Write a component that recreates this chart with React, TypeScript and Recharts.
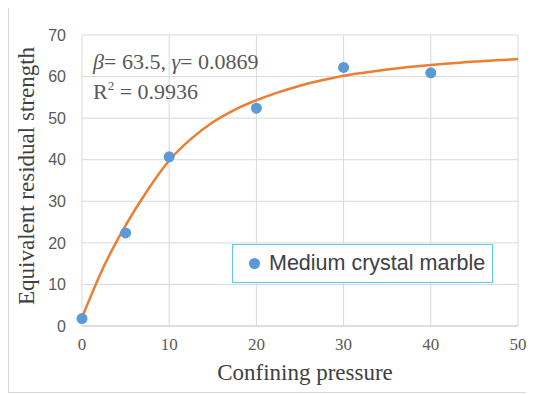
import React from 'react';
import {
  ComposedChart,
  Line,
  Scatter,
  XAxis,
  YAxis,
  CartesianGrid,
  Customized,
} from 'recharts';

// measured points (confining pressure vs equivalent residual strength)
const pressures = [0, 5, 10, 20, 30, 40];
const strengths = [1.8, 22.4, 40.7, 52.4, 62.2, 60.9];

// fitted curve
const curveX = [0, 2.5, 5, 7.5, 10, 12.5, 15, 17.5, 20, 22.5, 25, 27.5, 30, 32.5, 35, 37.5, 40, 42.5, 45, 47.5, 50];
const curveY = [2.0, 14.3, 24.2, 32.6, 39.8, 45.0, 49.0, 52.0, 54.3, 56.2, 57.8, 59.1, 60.2, 61.0, 61.7, 62.3, 62.8, 63.2, 63.6, 63.9, 64.2];

const xTicks = [0, 10, 20, 30, 40, 50];
const yTicks = [0, 10, 20, 30, 40, 50, 60, 70];

const points = pressures.map((x, i) => ({ x, y: strengths[i] }));
const curve = curveX.map((x, i) => ({ x, y: curveY[i] }));

const serif = '"Liberation Serif", "Times New Roman", serif';
const sans = '"Liberation Sans", Arial, sans-serif';

const Dot = (props: any) => (
  <circle cx={props.cx} cy={props.cy} r={5.5} fill="#5b9bd5" />
);

const Titles = () => (
  <g fontFamily={serif} fill="#404040" fontSize={23}>
    <text x={305} y={380} textAnchor="middle">Confining pressure</text>
    <text
      x={0}
      y={0}
      textAnchor="middle"
      transform="translate(34, 176) rotate(-90)"
    >
      Equivalent residual strength
    </text>
  </g>
);

export default function App() {
  return (
    <div style={{ position: 'relative', marginLeft: -8, marginTop: -8, width: 534, height: 394, background: '#fff' }}>
      <div
        style={{
          position: 'absolute',
          left: 8,
          top: 5,
          width: 525,
          height: 388,
          border: '1px solid #d9d9d9',
          boxSizing: 'border-box',
        }}
      />
      <ComposedChart
        width={534}
        height={394}
        margin={{ top: 35, right: 16, left: 22, bottom: 38 }}
        style={{ position: 'absolute', left: 0, top: 0 }}
      >
        <CartesianGrid stroke="#d9d9d9" strokeWidth={1} />
        <XAxis
          dataKey="x"
          type="number"
          domain={[0, 50]}
          ticks={xTicks}
          height={30}
          tickLine={false}
          tickSize={0}
          tickMargin={12}
          axisLine={{ stroke: '#cfcfcf' }}
          tick={{ fill: '#595959', fontSize: 17, fontFamily: serif }}
          allowDuplicatedCategory={false}
        />
        <YAxis
          dataKey="y"
          type="number"
          domain={[0, 70]}
          ticks={yTicks}
          width={60}
          tickLine={false}
          tickSize={0}
          tickMargin={16}
          axisLine={false}
          tick={{ fill: '#595959', fontSize: 16, fontFamily: sans }}
        />
        <Line
          data={curve}
          dataKey="y"
          type="monotone"
          stroke="#ed7d31"
          strokeWidth={2.5}
          dot={false}
          isAnimationActive={false}
        />
        <Scatter
          data={points}
          dataKey="y"
          shape={<Dot />}
          isAnimationActive={false}
        />
        <Customized component={Titles} />
      </ComposedChart>

      <div
        style={{
          position: 'absolute',
          left: 93,
          top: 47,
          fontFamily: serif,
          fontSize: 22,
          color: '#595959',
          lineHeight: '30px',
          whiteSpace: 'nowrap',
        }}
      >
        <div>
          <i>β</i>= 63.5, <i>γ</i>= 0.0869
        </div>
        <div>
          R<sup style={{ fontSize: 13, verticalAlign: 'top', lineHeight: '18px' }}>2</sup> = 0.9936
        </div>
      </div>

      <div
        style={{
          position: 'absolute',
          left: 232,
          top: 244,
          width: 261,
          height: 39,
          boxSizing: 'border-box',
          border: '1px solid #5bc8f0',
          background: '#fff',
          display: 'flex',
          alignItems: 'center',
          fontFamily: sans,
          fontSize: 21.5,
          color: '#404040',
          whiteSpace: 'nowrap',
        }}
      >
        <span
          style={{
            display: 'inline-block',
            width: 11,
            height: 11,
            borderRadius: '50%',
            background: '#5b9bd5',
            marginLeft: 16,
            marginRight: 9,
          }}
        />
        <span>Medium crystal marble</span>
      </div>
    </div>
  );
}
